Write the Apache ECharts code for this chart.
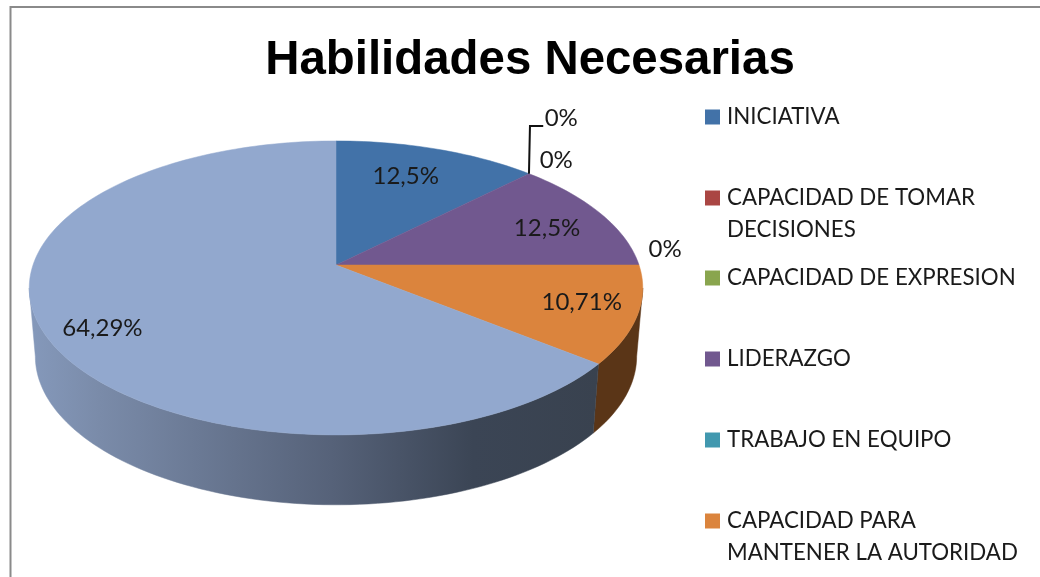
<!DOCTYPE html>
<html><head><meta charset="utf-8">
<style>html,body{margin:0;padding:0;background:#fff}#c{width:1040px;height:577px}</style>
<script src="https://cdn.jsdelivr.net/npm/echarts@6/dist/echarts.min.js"></script>
</head><body><div id="c"></div>
<script>
const categories = ['INICIATIVA','CAPACIDAD DE TOMAR\nDECISIONES','CAPACIDAD DE EXPRESION','LIDERAZGO','TRABAJO EN EQUIPO','CAPACIDAD PARA\nMANTENER LA AUTORIDAD','OTRAS'];
const values = [12.5,0,0,12.5,0,10.71,64.29];
const valueLabels = ['12,5%','0%','0%','12,5%','0%','10,71%','64,29%'];
const colors = ['#4272A8','#AA4643','#89A54E','#71588F','#4198AF','#DB843D','#92A8CE'];
const labelOffsets = [[-4,-4],[86,-81],[81,-39],[23,0],[117,-16],[38,3],[-33,18]];
const legendCenters = [117,198,278,359,440,521];

const FONT = 'Lato';
const k = -0.156, topFace = {y0:265, ax:303, by:143.4}, baseFace = {y0:333, ax:297, by:145};
const CX = 336;
function project(deg, r, f){
  const a = deg*Math.PI/180, sx = Math.sin(a)*r, sy = -Math.cos(a)*r, w = 1+k*sy;
  return [CX + f.ax*sx/w, f.y0 + f.by*sy/w];
}
function arc(a0,a1,f){
  const n = Math.max(2,Math.ceil(Math.abs(a1-a0)/1.5)), p=[];
  for(let i=0;i<=n;i++) p.push(project(a0+(a1-a0)*i/n,1,f));
  return p;
}
function extremeAngle(a0,a1,f,sign){
  let best=a0,bv=-Infinity;
  for(let a=a0;a<=a1;a+=0.25){const v=sign*project(a,1,f)[0]; if(v>bv){bv=v;best=a;}}
  return best;
}
const total = values.reduce((s,v)=>s+v,0);
const starts = []; values.reduce((s,v,i)=>{starts[i]=s;return s+v/total*360;},0);

const rightLimit = extremeAngle(0,180,topFace,1);
const leftLimit = extremeAngle(180,360,topFace,-1);
const wallFill = new echarts.graphic.LinearGradient(0,0,1,0,[
  {offset:0,color:'#8599BB'},{offset:.124,color:'#7A8BA9'},{offset:.53,color:'#566279'},{offset:.78,color:'#3B4555'},{offset:1,color:'#39424F'}]);
const wallColors = {5:'#5A3517',6:wallFill};

function renderSlice(i){
  return function(params, api){
    const v = api.value(0);
    const a0 = starts[i], a1 = a0 + v/total*360;
    const children = [];
    if(v>0){
      const w0 = Math.max(a0,rightLimit), w1 = Math.min(a1,leftLimit);
      if(wallColors[i] && w1>w0){
        const base = arc(w0,w1,baseFace).reverse();
        children.push({type:'polygon',z2:1,shape:{points:arc(w0,w1,topFace).concat(base)},
          style:{fill:wallColors[i],stroke:wallColors[i],lineWidth:.5}});
      }
      children.push({type:'polygon',z2:2,shape:{points:[[CX,topFace.y0]].concat(arc(a0,a1,topFace))},
        style:{fill:colors[i],stroke:colors[i],lineWidth:.5}});
    }
    const mid = (a0+a1)/2, c = project(mid,.7,topFace);
    const lx = c[0]+labelOffsets[i][0], ly = c[1]+labelOffsets[i][1];
    if(i===1){
      const s = project(a0,1,topFace);
      children.push({type:'polyline',z2:3,shape:{points:[s,[s[0]+1,ly+8],[lx-18,ly+8]]},
        style:{fill:null,stroke:'#111',lineWidth:2}});
    }
    children.push({type:'text',z2:4,x:lx,y:ly,style:{text:valueLabels[i],align:'center',verticalAlign:'middle',
      font:'24px '+FONT,fill:'#1a1a1a'}});
    return {type:'group',children};
  };
}

const LH = 32;
const option = {
  animation:false,
  backgroundColor:'#fff',
  title:{text:'Habilidades Necesarias',left:525,top:32,textAlign:'center',
    textStyle:{fontFamily:'Liberation Sans',fontSize:47.4,fontWeight:'bold',color:'#000'}},
  legend:legendCenters.map((y,i)=>{
    const two = categories[i].includes('\n');
    return {
      orient:'vertical',left:705,top:y-(two?3:1)*LH/2,selectedMode:false,padding:0,
      icon:'rect',itemWidth:15,itemHeight:15,
      data:[categories[i]],
      formatter:n=>two?' \n'+n:n,
      textStyle:{fontFamily:FONT,fontSize:22.3,lineHeight:LH,color:'#1a1a1a',padding:[0,0,0,2]}
    };
  }),
  graphic:[{type:'polyline',silent:true,shape:{points:[[10.5,577],[10.5,7],[1040,7]]},
    style:{fill:null,stroke:'#8a8a8a',lineWidth:2}}],
  series:categories.map((name,i)=>({
    type:'custom',name,coordinateSystem:'none',
    itemStyle:{color:colors[i]},
    data:[[values[i]]],
    renderItem:renderSlice(i)
  }))
};
const chart = echarts.init(document.getElementById('c'),null,{renderer:'canvas'});
chart.setOption(option);
</script></body></html>
